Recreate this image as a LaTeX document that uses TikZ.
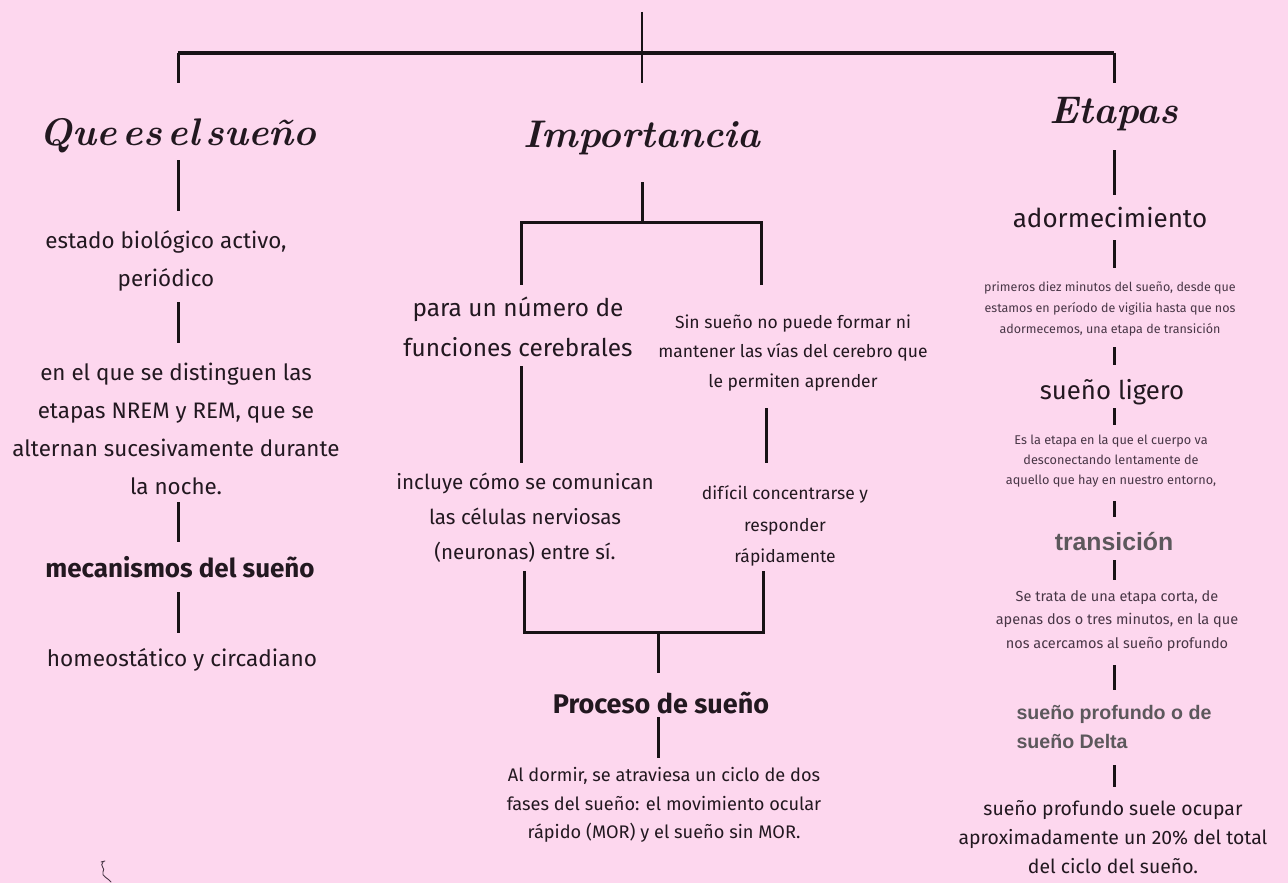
\documentclass[tikz,border=0pt]{standalone}
\usepackage{fontspec}
\newfontfamily\bodyfont{Fira Sans}
\newfontfamily\grayfont{Liberation Sans}
\newcommand{\setfs}[2]{\fontsize{#1}{#2}\selectfont}
\definecolor{bg}{RGB}{253,215,238}
\definecolor{ink}{RGB}{34,24,32}
\definecolor{soft}{RGB}{72,54,70}
\definecolor{grayb}{RGB}{92,88,92}
\definecolor{linec}{RGB}{24,18,22}
\tikzset{
  txt/.style={align=center, inner sep=0pt, text=ink},
  hd/.style={inner sep=0pt, anchor=base, text=ink, font=\bfseries\itshape\setfs{38.5}{46}},
  link/.style={draw=linec, line width=3pt},
}
\begin{document}
\begin{tikzpicture}[x=1pt,y=-1pt]
\fill[bg] (0,0) rectangle (1288,883);
\useasboundingbox (0,0) rectangle (1288,883);

% headings
\node[hd] (hq) at (178,145) {Que\hspace{6pt}es\hspace{6pt}el\hspace{6pt}sueño};
\node[hd] (hi) at (642,147) {Importancia};
\node[hd] (he) at (1114,123) {Etapas};

% left column
\node[txt, font=\bodyfont\setfs{22.4}{38}] (est) at (166,261) {estado biológico activo,\\periódico};
\node[txt, font=\bodyfont\setfs{22.4}{38}] (ena) at (176,429) {en el que se distinguen las\\etapas NREM y REM, que se\\alternan sucesivamente durante\\la noche.};
\node[txt, font=\bodyfont\bfseries\setfs{26}{30}] (mec) at (180,567) {mecanismos del sueño};
\node[txt, font=\bodyfont\setfs{22.6}{38}] (hom) at (182,660) {homeostático y circadiano};

% middle column
\node[txt, font=\bodyfont\setfs{24.4}{40}] (pn) at (518,327) {para un número de\\funciones cerebrales};
\node[txt, font=\bodyfont\setfs{17.5}{29.5}] (sin) at (793,353) {Sin sueño no puede formar ni\\mantener las vías del cerebro que\\le permiten aprender};
\node[txt, font=\bodyfont\setfs{20.6}{35}] (inc) at (525,518) {incluye cómo se comunican\\las células nerviosas\\(neuronas) entre sí.};
\node[txt, font=\bodyfont\setfs{17.5}{31.5}] (dif) at (785,526) {difícil concentrarse y\\responder\\rápidamente};
\node[txt, font=\bodyfont\bfseries\setfs{27}{30}] (pro) at (661,703) {Proceso de sueño};
\node[txt, font=\bodyfont\setfs{18.2}{28.5}] (ald) at (664,805) {Al dormir, se atraviesa un ciclo de dos\\fases del sueño: el movimiento ocular\\rápido (MOR) y el sueño sin MOR.};

% right column
\node[txt, font=\bodyfont\setfs{26}{30}] (ado) at (1110,218) {adormecimiento};
\node[txt, text=soft, font=\bodyfont\setfs{12.5}{21}] (pri) at (1110,309) {primeros diez minutos del sueño, desde que\\estamos en período de vigilia hasta que nos\\adormecemos, una etapa de transición};
\node[txt, font=\bodyfont\setfs{25.8}{30}] (lig) at (1112,392) {sueño ligero};
\node[txt, text=soft, font=\bodyfont\setfs{12.7}{20}] (esl) at (1111,461) {Es la etapa en la que el cuerpo va\\desconectando lentamente de\\aquello que hay en nuestro entorno,};
\node[txt, text=grayb, font=\grayfont\bfseries\setfs{24.8}{28}] (tra) at (1114,542) {transición};
\node[txt, text=soft, font=\bodyfont\setfs{14.5}{23.5}] (set) at (1117,621) {Se trata de una etapa corta, de\\apenas dos o tres minutos, en la que\\nos acercamos al sueño profundo};
\node[txt, align=left, text=grayb, font=\grayfont\bfseries\setfs{19.6}{29}] (spd) at (1114,727) {sueño profundo o de\\sueño Delta};
\node[txt, font=\bodyfont\setfs{19.4}{29}] (spo) at (1113,837) {sueño profundo suele ocupar\\aproximadamente un 20\% del total\\del ciclo del sueño.};

% top connectors
\coordinate (top) at (642,12);
\coordinate (barL) at (178,53);
\coordinate (barR) at (1114,53);
\draw[link, line width=2pt, shorten >=64pt] (top) -- (hi.base);
\draw[link, line width=3.4pt] (barL) -- (barR);
\draw[link, shorten >=62pt] (barL) -- (hq.base);
\draw[link, shorten >=40pt] (barR) -- (he.base);

% left connectors
\coordinate (lx) at (178,0);
\draw[link, shorten <=15pt, shorten >=50pt] (hq.base -| lx) -- (est.center -| lx);
\draw[link, shorten <=41pt, shorten >=86pt] (est.center -| lx) -- (ena.center -| lx);
\draw[link, shorten <=73pt, shorten >=25pt] (ena.center -| lx) -- (mec.center -| lx);
\draw[link, shorten <=25pt, shorten >=27pt] (mec.center -| lx) -- (hom.center -| lx);

% middle connectors
\coordinate (jI) at (642,222);
\coordinate (bl) at (521,222);
\coordinate (br) at (761,222);
\coordinate (brd) at (761,285);
\draw[link, shorten <=35pt] (hi.base) -- (jI);
\draw[link, shorten >=42pt] (brd) -- (br) -- (bl) -- (bl |- pn.center);
\draw[link, shorten <=39pt, shorten >=55pt] (pn.center -| bl) -- (inc.center -| bl);
\coordinate (rx) at (766,0);
\draw[link, shorten <=55pt, shorten >=63pt] (sin.center -| rx) -- (dif.center -| rx);
\coordinate (lb) at (524,632);
\coordinate (rb) at (763,632);
\draw[link, shorten <=53pt, shorten >=45pt] (inc.center -| lb) -- (lb) -- (rb) -- (dif.center -| rb);
\coordinate (cb) at (658,632);
\draw[link, shorten >=30pt] (cb) -- (cb |- pro.center);
\draw[link, shorten <=14pt, shorten >=47pt] (pro.center -| cb) -- (ald.center -| cb);

% right connectors
\coordinate (cx) at (1114,0);
\draw[link, shorten <=27pt, shorten >=23pt] (he.base -| cx) -- (ado.center -| cx);
\draw[link, shorten <=22pt, shorten >=41pt] (ado.center -| cx) -- (pri.center -| cx);
\draw[link, shorten <=38pt, shorten >=27pt] (pri.center -| cx) -- (lig.center -| cx);
\draw[link, shorten <=16pt, shorten >=36pt] (lig.center -| cx) -- (esl.center -| cx);
\draw[link, shorten <=40pt, shorten >=25pt] (esl.center -| cx) -- (tra.center -| cx);
\draw[link, shorten <=18pt, shorten >=41pt] (tra.center -| cx) -- (set.center -| cx);
\draw[link, shorten <=44pt, shorten >=37pt] (set.center -| cx) -- (spd.center -| cx);
\draw[link, shorten <=38pt, shorten >=50pt] (spd.center -| cx) -- (spo.center -| cx);

% small pen mark, bottom left
\draw[draw=soft, line width=0.9pt, line cap=round] (101,862) -- (105,861);
\draw[draw=soft, line width=0.9pt, line cap=round] (103,862) .. controls (99,866) and (106,868) .. (103,872) .. controls (101,876) and (108,878) .. (111,882);
\end{tikzpicture}
\end{document}
